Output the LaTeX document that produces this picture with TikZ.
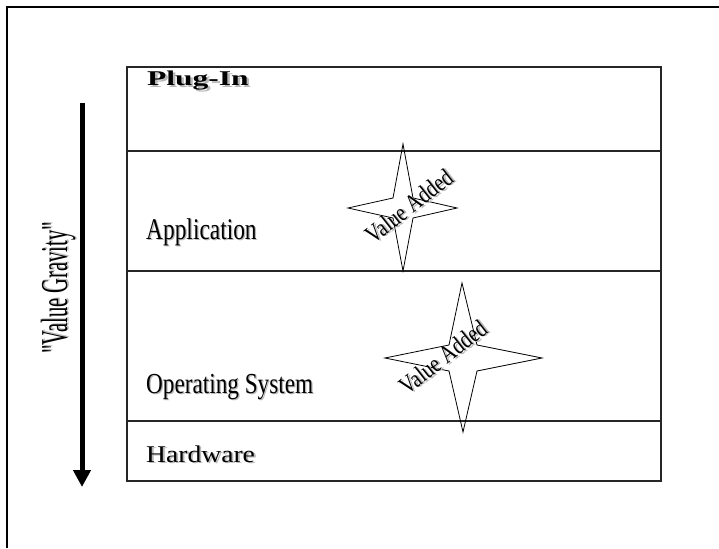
\documentclass[tikz,border=0pt]{standalone}
\usepackage{fontspec}
\setmainfont{Liberation Serif}[Ligatures=TeXOff]
\usetikzlibrary{arrows.meta}
\newcommand\shadtxt[1]{\makebox[0pt][l]{\hspace{1.6pt}\raisebox{-1.6pt}{\textcolor{black!28}{#1}}}#1}
\newcommand\sizedtxt[3]{\fontsize{#1}{#1}\selectfont\scalebox{#2}[1]{\shadtxt{#3}}}
\begin{document}
\begin{tikzpicture}[x=1pt,y=-1pt,
  layer/.style={draw=black!85, line width=1.3pt, minimum width=534pt, inner sep=0pt, outer sep=0pt},
  label/.style={anchor=base west, inner sep=0pt},
  star/.style={draw=black, line width=0.8pt},
  gravity/.style={line width=5pt, -{Triangle[width=17pt,length=17pt]}}]
\useasboundingbox (0,0) rectangle (719,548);
\fill[white] (0,0) rectangle (719,548);
% frame
\draw[line width=2.5pt] (7,548) -- (7,7) -- (719,7);
% layers
\node[layer, minimum height=84pt]  (plugin) at (394,109) {};
\node[layer, minimum height=120pt] (app)    at (394,211) {};
\node[layer, minimum height=150pt] (os)     at (394,346) {};
\node[layer, minimum height=60pt]  (hw)     at (394,451) {};
% stars
\draw[star] (403,144) -- (413,198) -- (457,208) -- (413,218) -- (403,271) -- (393,218) -- (348,208) -- (393,198) -- cycle;
\draw[star] (462,283) -- (477,345) -- (542,358) -- (477,371) -- (463,432) -- (449,371) -- (385,358) -- (449,345) -- cycle;
% layer labels
\node[label] (tplug) at (147,86)  {\bfseries\sizedtxt{21}{1.5}{Plug-In}};
\node[label] (tapp)  at (146,239) {\sizedtxt{30}{0.78}{Application}};
\node[label] (tos)   at (146,393) {\sizedtxt{29}{0.8}{Operating System}};
\node[label] (thw)   at (146,462) {\sizedtxt{24}{1.15}{Hardware}};
% value added
\node[anchor=base, inner sep=0pt, rotate=38] (va1) at (414,213) {\sizedtxt{25}{0.8}{Value Added}};
\node[anchor=base, inner sep=0pt, rotate=38] (va2) at (448,364) {\sizedtxt{25}{0.8}{Value Added}};
% gravity arrow
\coordinate (gtop) at (82,103);
\coordinate (gbot) at (82,487);
\draw[gravity] (gtop) -- (gbot);
\node[anchor=base, inner sep=0pt, rotate=90] (grav) at (67,288) {\sizedtxt{38}{0.54}{"Value Gravity"}};
\end{tikzpicture}
\end{document}
